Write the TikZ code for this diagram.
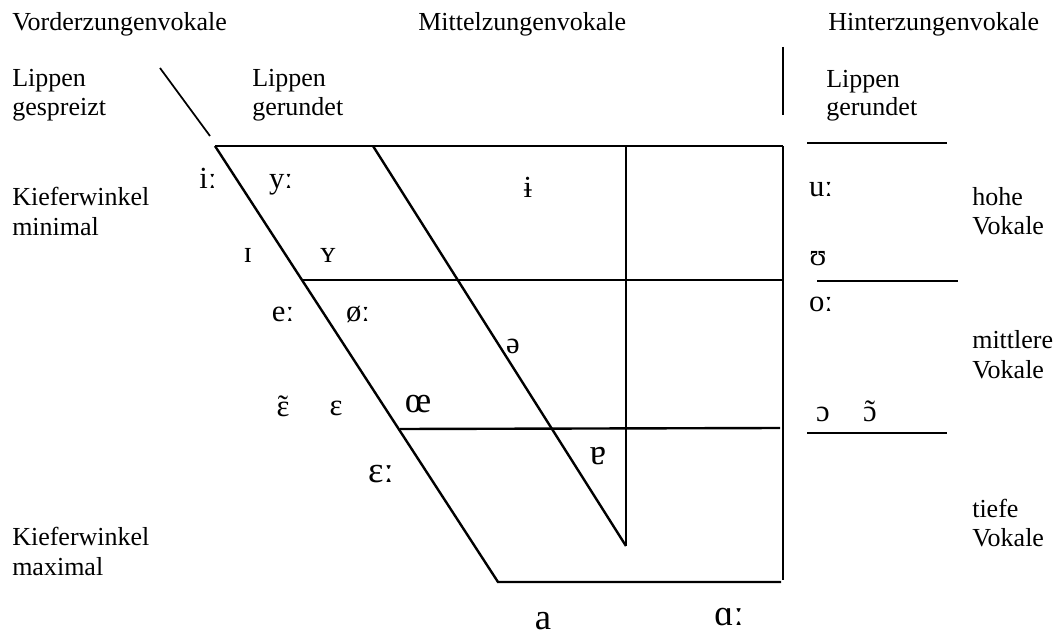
\documentclass[tikz,border=0pt]{standalone}
\usepackage{fontspec}
\setmainfont{Liberation Serif}
\newcommand{\tld}[1]{\accent"02DC #1}
\begin{document}
\begin{tikzpicture}[x=0.75pt,y=-0.75pt,
  lbl/.style={anchor=base west,inner sep=0pt,font=\fontsize{19.5}{22.5}\selectfont},
  ipa/.style={anchor=base,inner sep=0pt,font=\fontsize{23}{26}\selectfont},
  ipabig/.style={anchor=base,inner sep=0pt,font=\fontsize{27.5}{30}\selectfont},
  ln/.style={line width=1.8pt},
  thin/.style={line width=1.3pt}]
\useasboundingbox (0,0) rectangle (1058,635);
% headings
\node[lbl] (vz) at (12,31) {Vorderzungenvokale};
\node[lbl] (mz) at (418,31) {Mittelzungenvokale};
\node[lbl] (hz) at (828,31) {Hinterzungenvokale};
\node[lbl] (l1a) at (12,87) {Lippen};
\node[lbl] (l1b) at (12,116) {gespreizt};
\node[lbl] (l2a) at (252,87) {Lippen};
\node[lbl] (l2b) at (252,116) {gerundet};
\node[lbl] (l3a) at (826,88) {Lippen};
\node[lbl] (l3b) at (826,116) {gerundet};
\node[lbl] (k1a) at (12,205) {Kieferwinkel};
\node[lbl] (k1b) at (12,235) {minimal};
\node[lbl] (k2a) at (12,545) {Kieferwinkel};
\node[lbl] (k2b) at (12,575) {maximal};
\node[lbl] (h1a) at (972,205) {hohe};
\node[lbl] (h1b) at (972,234) {Vokale};
\node[lbl] (m1a) at (972,348) {mittlere};
\node[lbl] (m1b) at (972,378) {Vokale};
\node[lbl] (t1a) at (972,517) {tiefe};
\node[lbl] (t1b) at (972,546) {Vokale};
% frame coordinates
\coordinate (A) at (215,146);
\coordinate (B) at (373,146);
\coordinate (C) at (626,146);
\coordinate (D) at (783,146);
\coordinate (E) at (302,280);
\coordinate (F) at (783,280);
\coordinate (G) at (400,429);
\coordinate (H) at (780,428);
\coordinate (I) at (498,582);
\coordinate (J) at (781,582);
\coordinate (K) at (626,546);
\coordinate (Db) at (783,580);
\coordinate (S1) at (160,68);
\coordinate (S2) at (210,136);
\coordinate (V1) at (783,47);
\coordinate (V2) at (783,115);
\coordinate (R1a) at (807,143);
\coordinate (R1b) at (947,143);
\coordinate (R2a) at (817,281);
\coordinate (R2b) at (958,281);
\coordinate (R3a) at (807,433);
\coordinate (R3b) at (947,433);
\draw[ln] (A) -- (D);
\draw[ln] (A) -- (I) -- (J);
\draw[ln] (D) -- (Db);
\draw[ln] (E) -- (F);
\draw[ln] (G) -- (H);
\draw[ln] (B) -- (K);
\draw[ln] (C) -- (K);
\draw[thin] (S1) -- (S2);
\draw[thin] (V1) -- (V2);
\draw[thin] (R1a) -- (R1b);
\draw[thin] (R2a) -- (R2b);
\draw[thin] (R3a) -- (R3b);
% vowels
\node[ipa] (v1) at (208,189) {iː};
\node[ipa] (v2) at (281,189) {yː};
\node[ipa] (v3) at (248,262) {ɪ};
\node[ipa] (v4) at (328,262) {ʏ};
\node[ipa] (v5) at (283,321) {eː};
\node[ipa] (v6) at (358,321) {øː};
\node[ipa] (v7) at (283,416) {\tld{ɛ}};
\node[ipa] (v8) at (336,415) {ɛ};
\node[ipabig] (v9) at (418,412) {œ};
\node[ipabig] (v10) at (381,482) {ɛː};
\node[ipa] (v11) at (528,198) {ɨ};
\node[ipa] (v12) at (513,353) {ə};
\node[ipabig] (v13) at (598,464) {ɐ};
\node[ipabig] (v14) at (543,629) {a};
\node[ipabig] (v15) at (729,625) {ɑː};
\node[ipa] (v16) at (821,196) {uː};
\node[ipa] (v17) at (818,265) {ʊ};
\node[ipa] (v18) at (821,311) {oː};
\node[ipa] (v19) at (823,421) {ɔ};
\node[ipa] (v20) at (870,421) {\tld{ɔ}};
\end{tikzpicture}
\end{document}
